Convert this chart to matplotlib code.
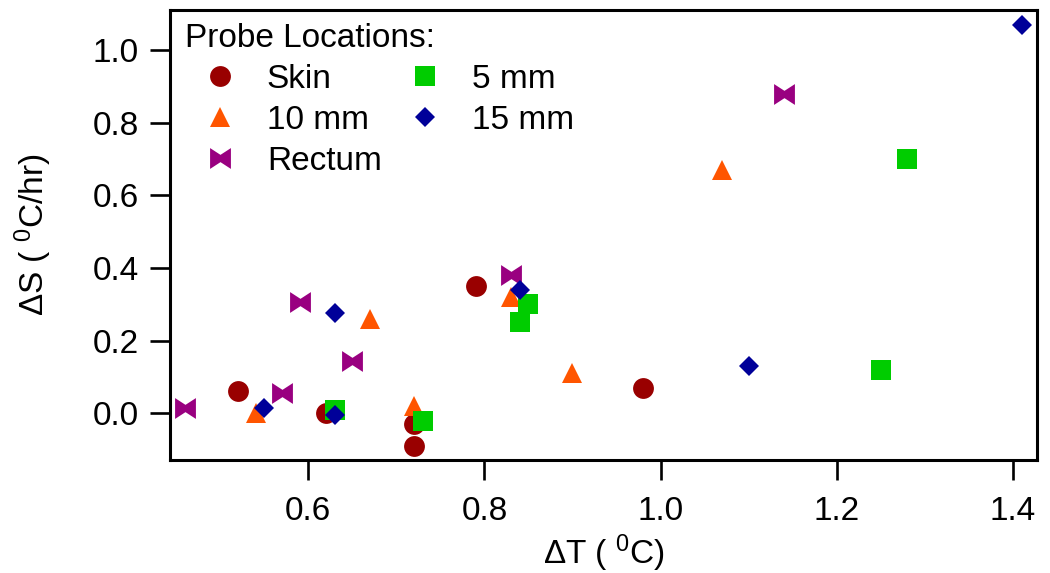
import matplotlib
matplotlib.use('Agg')
import matplotlib.pyplot as plt
from matplotlib.path import Path

plt.rcParams['font.family'] = ['Liberation Sans', 'DejaVu Sans']
plt.rcParams['mathtext.fontset'] = 'custom'
plt.rcParams['mathtext.rm'] = 'Liberation Sans'
plt.rcParams['mathtext.it'] = 'Liberation Sans'
plt.rcParams['mathtext.default'] = 'regular'

# ── data (ΔT in °C, ΔS in °C/hr) ─────────────────────────────────────────────
skin_x   = [0.52, 0.62, 0.72, 0.72, 0.79, 0.98]
skin_y   = [0.06, 0.00, -0.03, -0.09, 0.35, 0.07]
mm10_x   = [0.54, 0.67, 0.72, 0.83, 0.90, 1.07]
mm10_y   = [0.00, 0.26, 0.02, 0.32, 0.11, 0.67]
rectum_x = [0.46, 0.57, 0.59, 0.65, 0.83, 1.14]
rectum_y = [0.015, 0.055, 0.305, 0.145, 0.38, 0.88]
mm5_x    = [0.63, 0.73, 0.84, 0.85, 1.25, 1.28]
mm5_y    = [0.01, -0.02, 0.25, 0.30, 0.12, 0.70]
mm15_x   = [0.55, 0.63, 0.63, 0.84, 1.10, 1.41]
mm15_y   = [0.015, 0.275, -0.005, 0.34, 0.13, 1.07]

# bow-tie marker for the rectum probe
bowtie = Path([(-1, -1), (-1, 1), (0, 0.35), (1, 1), (1, -1), (0, -0.35), (-1, -1)],
              [Path.MOVETO] + [Path.LINETO] * 5 + [Path.CLOSEPOLY])

series = [
    ('Skin',   skin_x,   skin_y,   'o',    '#990000', 15),
    ('10 mm',  mm10_x,   mm10_y,   '^',    '#FF5500', 15),
    ('Rectum', rectum_x, rectum_y, bowtie, '#990080', 15),
    ('5 mm',   mm5_x,    mm5_y,    's',    '#00CC00', 15),
    ('15 mm',  mm15_x,   mm15_y,   'D',    '#000099', 10.5),
]

FS = 24

fig = plt.figure(figsize=(10.5, 5.73), dpi=100)
ax = fig.add_axes([0.162, 0.197, 0.826, 0.7855])

for label, xs, ys, mk, col, ms in series:
    ax.plot(xs, ys, linestyle='none', marker=mk, color=col, markersize=ms,
            markeredgewidth=0, label=label)

ax.set_xlim(0.443, 1.428)
ax.set_ylim(-0.129, 1.110)
ax.set_xticks([0.6, 0.8, 1.0, 1.2, 1.4])
ax.set_yticks([0.0, 0.2, 0.4, 0.6, 0.8, 1.0])
ax.xaxis.set_major_formatter(matplotlib.ticker.FormatStrFormatter('%.1f'))
ax.yaxis.set_major_formatter(matplotlib.ticker.FormatStrFormatter('%.1f'))

for s in ax.spines.values():
    s.set_linewidth(2.2)
ax.tick_params(direction='out', length=14.5, width=1.9, labelsize=FS)
ax.tick_params(axis='x', pad=11)
ax.tick_params(axis='y', pad=8)

ax.set_xlabel('ΔT ( $^{0}$C)', fontsize=FS, labelpad=4)
ax.set_ylabel('ΔS ( $^{0}$C/hr)', fontsize=FS, labelpad=28)

leg = ax.legend(title='Probe Locations:', loc='upper left',
                bbox_to_anchor=(0.017, 0.972), ncol=2, frameon=False,
                fontsize=FS, title_fontsize=FS, borderpad=0, borderaxespad=0,
                handlelength=2.1, handletextpad=0.36, columnspacing=0.25,
                labelspacing=0.3, alignment='left')

fig.savefig('out.png', dpi=100)
